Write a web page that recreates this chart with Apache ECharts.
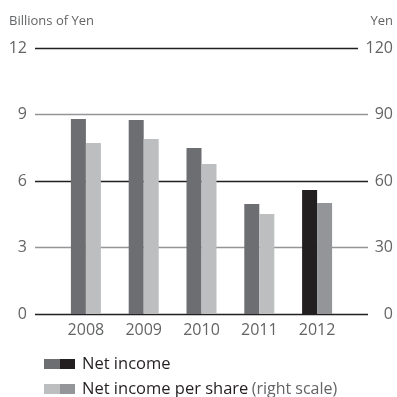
<!DOCTYPE html>
<html>
<head>
<meta charset="utf-8">
<script src="https://cdn.jsdelivr.net/npm/echarts@6/dist/echarts.min.js"></script>
<style>
  html, body { margin: 0; padding: 0; background: #fff; }
  #chart { width: 397px; height: 397px; }
</style>
</head>
<body>
<div id="chart"></div>
<script>
// Fiscal years and values
const years = ['2008', '2009', '2010', '2011', '2012'];
const netIncome = [8.80, 8.75, 7.49, 4.96, 5.59];          // billions of yen (left scale)
const netIncomePerShare = [77.1, 78.9, 67.7, 45.1, 50.1];  // yen (right scale)
const leftTicks = [0, 3, 6, 9, 12];
const rightTicks = [0, 30, 60, 90, 120];

const FONT = '"Open Sans", "Noto Sans", sans-serif';
const DARK = '#6d6e71', DARK_LAST = '#231f20';
const LIGHT = '#bcbec0', LIGHT_LAST = '#939598';
const TXT = '#636466';
const RULE_DARK = '#231f20', RULE_GRAY = '#939598';

const lastIdx = years.length - 1;
const niData = netIncome.map((v, i) => ({ value: v, itemStyle: { color: i === lastIdx ? DARK_LAST : DARK } }));
const psData = netIncomePerShare.map((v, i) => ({ value: v, itemStyle: { color: i === lastIdx ? LIGHT_LAST : LIGHT } }));

const chart = echarts.init(document.getElementById('chart'), null, { renderer: 'canvas' });

const gridTop = 48, gridBottom = 83;
const topValue = leftTicks[leftTicks.length - 1];

chart.setOption({
  animation: false,
  grid: [
    // full-width grid carrying the horizontal rules and both scales
    { left: 35, right: 29, top: gridTop, bottom: gridBottom },
    // narrower grid holding the bars
    { left: 57, right: 51, top: gridTop, bottom: gridBottom }
  ],
  xAxis: [
    { gridIndex: 0, type: 'value', min: 0, max: 1, show: false },
    {
      gridIndex: 1, type: 'category', data: years,
      axisLine: { show: false }, axisTick: { show: false },
      axisLabel: { color: TXT, fontFamily: FONT, fontSize: 16, margin: 8 }
    }
  ],
  yAxis: [
    {
      gridIndex: 0, type: 'value', position: 'left',
      min: leftTicks[0], max: topValue, interval: leftTicks[1] - leftTicks[0],
      axisLine: { show: false }, axisTick: { show: false },
      axisLabel: { color: TXT, fontFamily: FONT, fontSize: 16, margin: 8 },
      // rules alternate dark / gray; the top rule is drawn shorter below
      splitLine: { show: true, lineStyle: { color: [RULE_DARK, RULE_GRAY, RULE_DARK, RULE_GRAY, 'rgba(0,0,0,0)'], width: 1.3 } }
    },
    {
      gridIndex: 0, type: 'value', position: 'right',
      min: rightTicks[0], max: rightTicks[rightTicks.length - 1], interval: rightTicks[1] - rightTicks[0],
      axisLine: { show: false }, axisTick: { show: false },
      axisLabel: { color: TXT, fontFamily: FONT, fontSize: 16, margin: 25, align: 'right' },
      splitLine: { show: false }
    },
    { gridIndex: 1, type: 'value', min: 0, max: 12, show: false },
    { gridIndex: 1, type: 'value', min: 0, max: 120, show: false }
  ],
  series: [
    {
      name: 'Net income', type: 'bar', xAxisIndex: 1, yAxisIndex: 2,
      data: niData, barWidth: 15, barGap: '0%'
    },
    {
      name: 'Net income per share', type: 'bar', xAxisIndex: 1, yAxisIndex: 3,
      data: psData, barWidth: 15, barGap: '0%'
    },
    {
      // top rule, stopping short of the wider right-hand label
      type: 'line', xAxisIndex: 0, yAxisIndex: 0, data: [], symbol: 'none', silent: true,
      markLine: {
        silent: true, symbol: 'none', label: { show: false },
        lineStyle: { color: RULE_DARK, width: 1.3, type: 'solid' },
        data: [[{ coord: [0, topValue] }, { coord: [0.97, topValue] }]]
      }
    }
  ],
  graphic: [
    { type: 'text', left: 9, top: 15, style: { text: 'Billions of Yen', fill: TXT, font: '13px ' + FONT } },
    { type: 'text', right: 4, top: 15, style: { text: 'Yen', fill: TXT, font: '13px ' + FONT } },
    // legend swatches (two-tone) and labels
    { type: 'rect', shape: { x: 44, y: 359, width: 16, height: 10 }, style: { fill: DARK } },
    { type: 'rect', shape: { x: 60, y: 359, width: 15, height: 10 }, style: { fill: DARK_LAST } },
    { type: 'text', x: 82, y: 364, style: { text: 'Net income', fill: '#231f20', font: '16.5px ' + FONT, verticalAlign: 'middle' } },
    { type: 'rect', shape: { x: 44, y: 384, width: 16, height: 10 }, style: { fill: LIGHT } },
    { type: 'rect', shape: { x: 60, y: 384, width: 15, height: 10 }, style: { fill: LIGHT_LAST } },
    {
      type: 'text', x: 82, y: 389,
      style: {
        text: '{a|Net income per share} {b|(right scale)}',
        verticalAlign: 'middle',
        rich: {
          a: { fill: '#231f20', font: '16.5px ' + FONT },
          b: { fill: TXT, font: '16px ' + FONT }
        }
      }
    }
  ]
});
</script>
</body>
</html>
